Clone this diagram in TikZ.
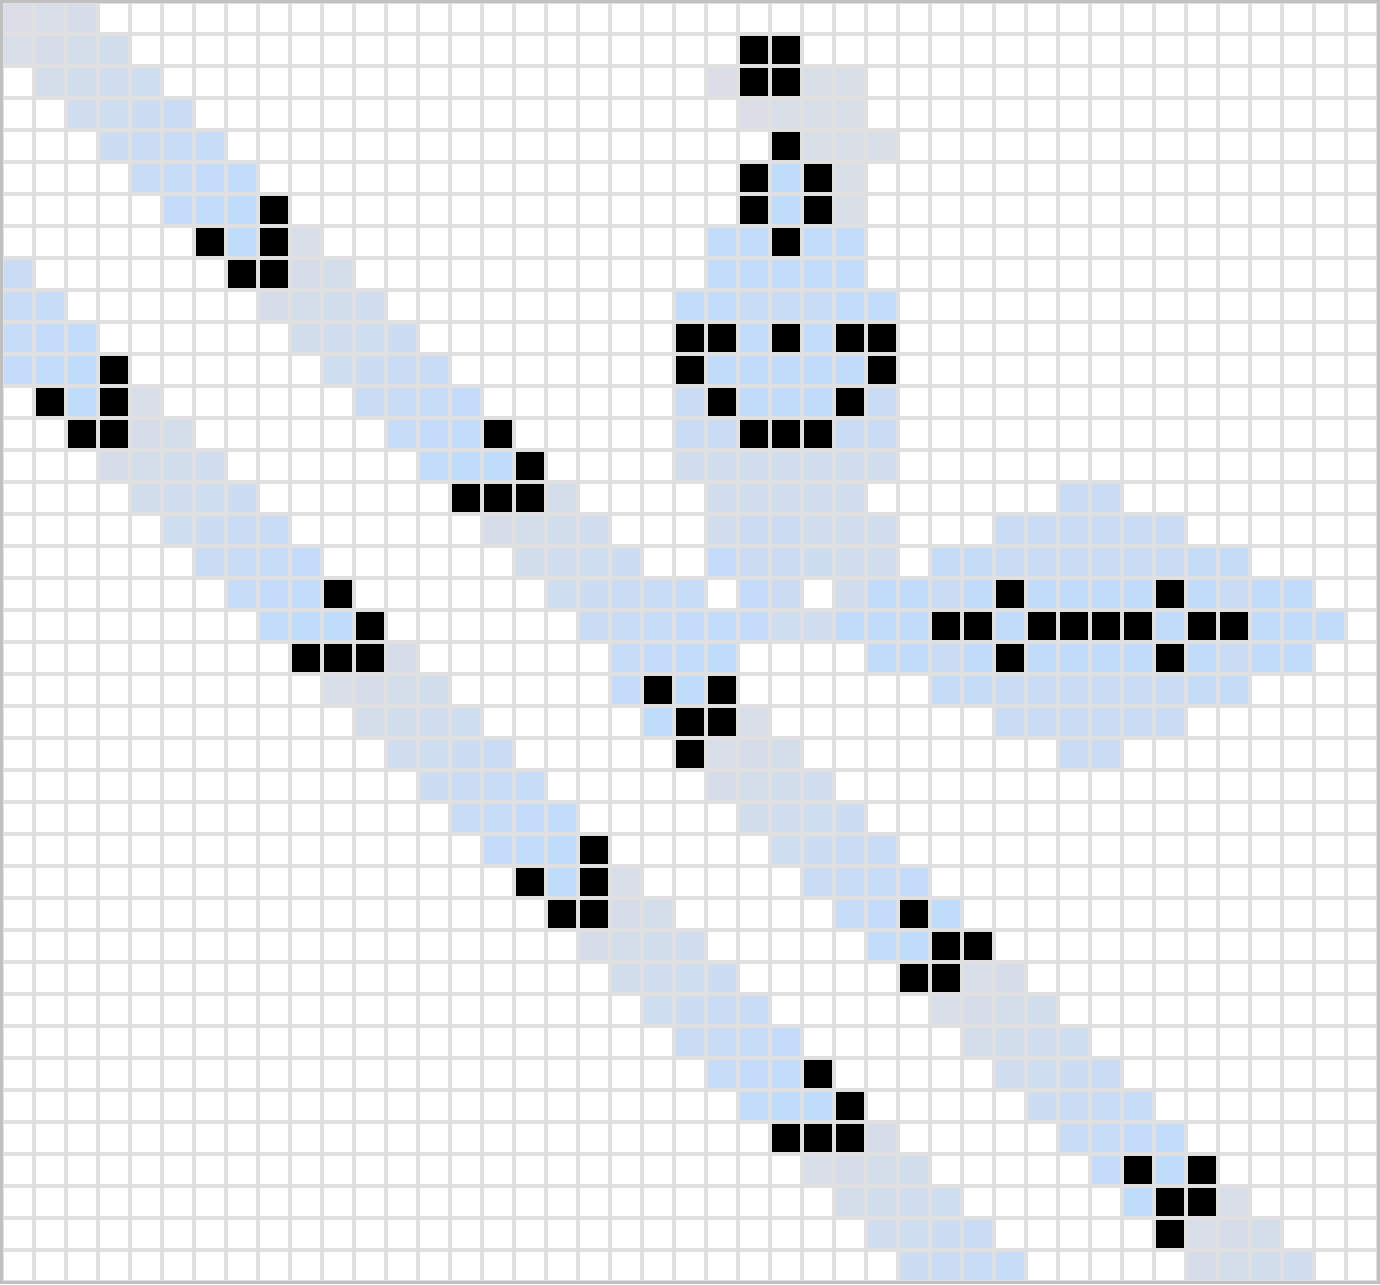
\documentclass[tikz,border=0pt]{standalone}
\usepackage{tikz}
\definecolor{blueA}{RGB}{192,220,252}
\definecolor{grayB}{RGB}{218,221,229}
\definecolor{gridC}{RGB}{224,224,224}
\definecolor{frameC}{RGB}{192,192,192}
% cell at row #1, column #2, fill #3
\newcommand\cellat[3]{\fill[#3] ({2+32*(#2)},{2+32*(#1)}) rectangle ++(32,32);}
% glider trail: leading glider centre (#1 row, #2 col), list of row/firstcol/lastcol
\newcommand\gltrail[3]{%
  \foreach \rr/\ca/\cb in {#3}{%
    \foreach \cc in {\ca,...,\cb}{%
      \pgfmathtruncatemacro\pp{max(0,min(100,round(100*(1-((#1-\rr)+(#2-\cc)-1)/13))))}%
      \cellat{\rr}{\cc}{blueA!\pp!grayB}%
    }}}
% fixed shade cells: row/firstcol/lastcol/percent
\newcommand\shaded[1]{%
  \foreach \rr/\ca/\cb/\pp in {#1}{%
    \foreach \cc in {\ca,...,\cb}{\cellat{\rr}{\cc}{blueA!\pp!grayB}}}}
\newcommand\livecells[1]{%
  \foreach \rr/\ca/\cb in {#1}{%
    \foreach \cc in {\ca,...,\cb}{\cellat{\rr}{\cc}{black}}}}
\begin{document}
\begin{tikzpicture}[x={(1pt,0)},y={(0,-1pt)}]
\useasboundingbox (0,0) rectangle (1380,1284);
\fill[white] (0,0) rectangle (1380,1284);
% trails of the first stream
\gltrail{7}{7}{0/0/2,1/0/3,2/1/4,3/2/5,4/3/6,5/4/7,6/5/7,7/7/7}
\gltrail{14}{15}{7/9/9,8/9/10,9/8/11,10/9/12,11/10/13,12/11/14,13/12/14,14/13/15}
\gltrail{22}{21}{15/17/17,16/15/18,17/16/19,18/17/21,19/18/22,20/19/22,21/19/19,21/21/21,22/20/20}
\gltrail{29}{29}{22/23/23,23/22/24,24/22/25,25/23/26,26/24/27,27/25/28,28/26/27,28/29/29,29/27/28}
\gltrail{37}{36}{30/30/31,31/29/32,32/30/33,33/31/34,34/32/35,35/33/36,36/34/34,36/36/36,37/35/35}
\gltrail{44}{44}{37/38/38,38/37/39,39/37/40}
% trails of the second stream
\gltrail{12}{2}{8/0/0,9/0/1,10/0/2,11/0/2,12/2/2}
\gltrail{19}{10}{12/4/4,13/4/5,14/3/6,15/4/7,16/5/8,17/6/9,18/7/9,19/8/10}
\gltrail{27}{17}{20/12/12,21/10/13,22/11/14,23/12/15,24/13/16,25/14/17,26/15/17,27/17/17}
\gltrail{34}{25}{27/19/19,28/19/20,29/18/21,30/19/22,31/20/23,32/21/24,33/22/24,34/23/25}
\gltrail{42}{32}{35/27/27,36/25/28,37/26/29,38/27/30,39/28/31}
% gun surroundings
\shaded{2/22/22/0,2/25/26/5,3/23/23/0,3/24/26/5,4/25/27/5,5/24/24/100,5/26/26/5,6/24/24/100,6/26/26/5,
7/22/23/88,7/25/26/88,8/22/26/90,9/21/22/92,9/23/25/70,9/26/27/92,10/23/23/92,10/25/25/92,
11/22/26/95,12/21/21/65,12/23/25/95,12/27/27/65,13/21/22/65,13/26/27/65,14/21/27/35,15/22/26/35,
16/22/22/35,16/23/24/58,16/25/27/35,17/22/22/85,17/23/24/58,17/25/25/50,17/26/27/35,
18/23/23/85,18/24/24/58,18/26/26/35,19/23/23/85,19/24/24/45,19/25/25/40}
% oscillator surroundings
\shaded{15/33/34/60,16/31/36/60,17/29/30/80,17/31/36/60,17/37/38/80,
18/27/28/95,18/29/29/65,18/30/30/95,18/32/35/95,18/37/37/95,18/38/38/65,18/39/40/95,
19/26/28/95,19/31/31/95,19/36/36/95,19/39/41/95,
20/27/28/95,20/29/29/65,20/30/30/95,20/32/35/95,20/37/37/95,20/38/38/65,20/39/40/95,
21/29/30/80,21/31/36/60,21/37/38/80,22/31/36/60,23/33/34/60}
% live cells
\livecells{1/23/24,2/23/24,4/24/24,5/23/23,5/25/25,6/23/23,6/25/25,7/24/24,10/21/22,10/24/24,10/26/27,
11/21/21,11/27/27,12/22/22,12/26/26,13/23/25,
6/8/8,7/6/6,7/8/8,8/7/8,13/15/15,14/16/16,15/14/16,21/20/20,21/22/22,22/21/22,23/21/21,
28/28/28,29/29/30,30/28/29,36/35/35,36/37/37,37/36/37,38/36/36,
11/3/3,12/1/1,12/3/3,13/2/3,18/10/10,19/11/11,20/9/11,26/18/18,27/16/16,27/18/18,28/17/18,
33/25/25,34/26/26,35/24/26,
18/31/31,18/36/36,19/29/30,19/32/35,19/37/38,20/31/31,20/36/36}
% grid
\foreach \k in {0,...,43}{\draw[gridC,line width=4pt] ({2+32*\k},0) -- ({2+32*\k},1284);}
\foreach \k in {0,...,40}{\draw[gridC,line width=4pt] (0,{2+32*\k}) -- (1380,{2+32*\k});}
\draw[frameC,line width=3pt] (1.5,1.5) rectangle (1378.5,1282.5);
\end{tikzpicture}
\end{document}
